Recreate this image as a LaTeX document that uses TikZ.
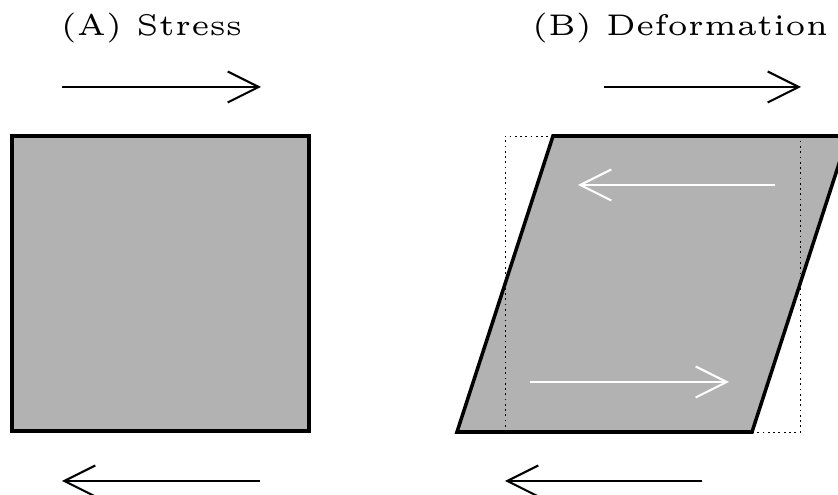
\documentclass[tikz,border=0pt]{standalone}
\usepackage{tikz}
\usetikzlibrary{arrows.meta}

\begin{document}
\begin{tikzpicture}[
        title/.style={font=\fontsize{5}{6}\selectfont, scale=3.4, transform shape, inner sep=0pt},
        block/.style={fill=black!30, draw=black, line width=2pt, line join=miter},
        guide/.style={draw=black, line width=0.5pt, dash pattern=on 1pt off 2pt},
        arrow/.style={line width=1.2pt, -{Straight Barb[length=0.62cm, width=0.62cm, line width=1.2pt]}},
        warrow/.style={arrow, draw=white}
    ]
        \useasboundingbox (0,0) rectangle (16.76,9.9);
        % (A) stress
        \node[title] (TA) at (3.03,9.34) {(A) Stress};
        \coordinate (A1) at (1.24,8.16);
        \coordinate (A2) at (5.22,8.16);
        \coordinate (A3) at (5.2,0.28);
        \coordinate (A4) at (1.24,0.28);
        \draw[block] (0.24,1.28) rectangle (6.18,7.18);
        \draw[arrow] (A1) -- (A2);
        \draw[arrow] (A3) -- (A4);
        % (B) deformation
        \node[title] (TB) at (13.6,9.34) {(B) Deformation};
        \coordinate (B1) at (12.08,8.16);
        \coordinate (B2) at (16.02,8.16);
        \coordinate (B3) at (14.04,0.28);
        \coordinate (B4) at (10.1,0.28);
        \coordinate (W1) at (15.5,6.2);
        \coordinate (W2) at (11.56,6.2);
        \coordinate (W3) at (10.6,2.26);
        \coordinate (W4) at (14.58,2.26);
        \draw[block] (9.14,1.26) -- (15.04,1.26) -- (16.96,7.18) -- (11.06,7.18) -- cycle;
        \draw[guide] (10.1,1.26) rectangle (16.0,7.18);
        \draw[warrow] (W1) -- (W2);
        \draw[warrow] (W3) -- (W4);
        \draw[arrow] (B1) -- (B2);
        \draw[arrow] (B3) -- (B4);
    \end{tikzpicture}
\end{document}
